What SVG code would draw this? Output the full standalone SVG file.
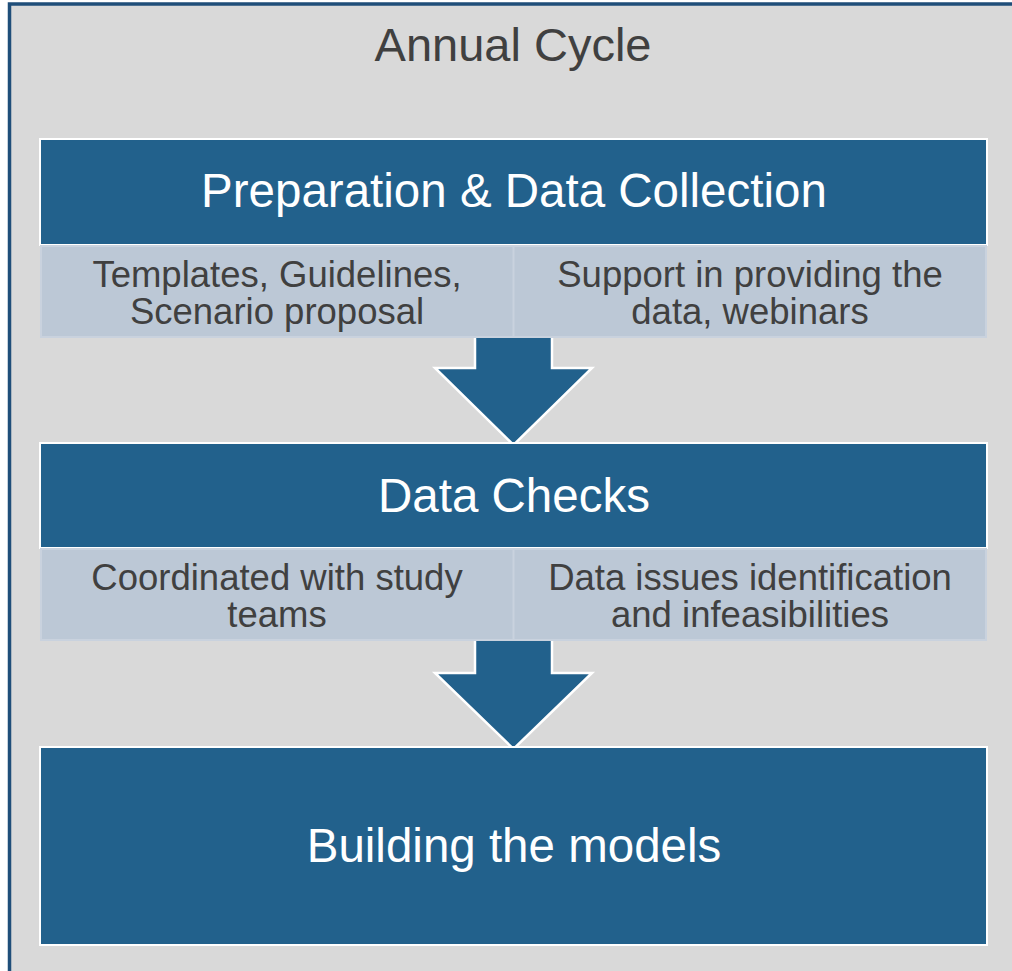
<svg xmlns="http://www.w3.org/2000/svg" width="1012" height="971" viewBox="0 0 1012 971">
  <style>
    .frame { fill: #d9d9d9; stroke: #1f4e79; stroke-width: 3.5; }
    .head { fill: #22618c; stroke: #ffffff; stroke-width: 2; }
    .sub { fill: #bcc8d6; stroke: #c9d2de; stroke-width: 2; }
    .divider { stroke: #c9d2de; stroke-width: 2; }
    .arrow { fill: #22618c; stroke: #ffffff; stroke-width: 2.5; stroke-linejoin: miter; }
    text { font-family: 'Liberation Sans', Arial, sans-serif; text-anchor: middle; }
    .title { font-size: 47px; fill: #404040; }
    .htext { font-size: 47.5px; fill: #ffffff; }
    .stext { font-size: 36.5px; fill: #404040; }
  </style>

  <!-- outer frame -->
  <g id="frame">
    <rect class="frame" x="9.5" y="4" width="1020" height="990"/>
    <text class="title" x="513" y="61">Annual Cycle</text>
  </g>

  <!-- block arrows between stages -->
  <g id="connectors">
    <polygon class="arrow" points="475,330 552,330 552,368 592,368 513.5,445 435,368 475,368"/>
    <polygon class="arrow" points="475,634 552,634 552,673 592,673 513.5,749 435,673 475,673"/>
  </g>

  <g id="stage-preparation">
    <rect class="head" x="40" y="139" width="947" height="106"/>
    <text class="htext" x="514" y="207">Preparation &amp; Data Collection</text>
    <rect class="sub" x="41" y="246" width="945" height="91"/>
    <line class="divider" x1="513.5" y1="246" x2="513.5" y2="337"/>
    <text class="stext" x="277" y="287">Templates, Guidelines,</text>
    <text class="stext" x="277" y="324">Scenario proposal</text>
    <text class="stext" x="750" y="287">Support in providing the</text>
    <text class="stext" x="750" y="324">data, webinars</text>
  </g>

  <g id="stage-data-checks">
    <rect class="head" x="40" y="443" width="947" height="105"/>
    <text class="htext" x="514" y="512">Data Checks</text>
    <rect class="sub" x="41" y="549" width="945" height="91"/>
    <line class="divider" x1="513.5" y1="549" x2="513.5" y2="640"/>
    <text class="stext" x="277" y="590">Coordinated with study</text>
    <text class="stext" x="277" y="627">teams</text>
    <text class="stext" x="750" y="590">Data issues identification</text>
    <text class="stext" x="750" y="627">and infeasibilities</text>
  </g>

  <g id="stage-building">
    <rect class="head" x="40" y="747" width="947" height="198"/>
    <text class="htext" x="514" y="862">Building the models</text>
  </g>
</svg>
